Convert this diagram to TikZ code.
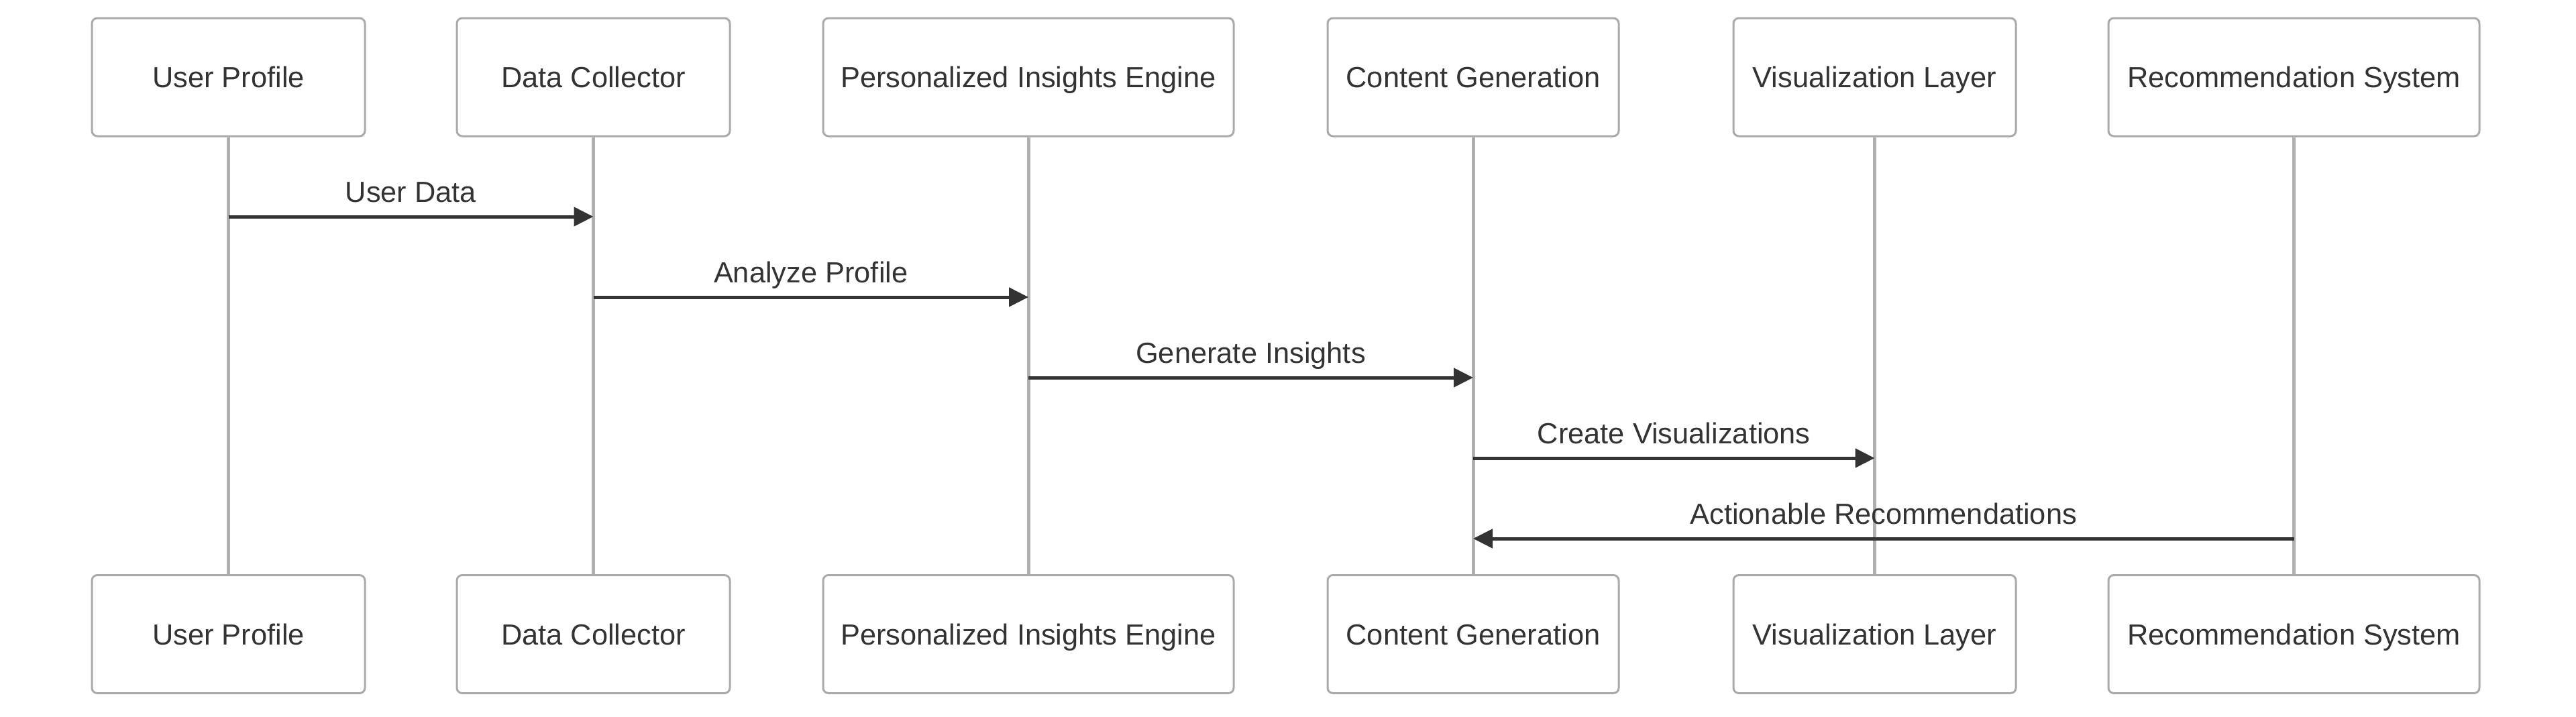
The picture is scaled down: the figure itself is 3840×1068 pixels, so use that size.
\documentclass[tikz,border=0pt]{standalone}
\usepackage{fontspec}
\setmainfont{Liberation Sans}
\usetikzlibrary{arrows.meta,calc}
\definecolor{txt}{HTML}{333333}
\definecolor{bord}{HTML}{AAAAAA}
\definecolor{lifec}{HTML}{B0B0B0}
\begin{document}
\begin{tikzpicture}[x=1pt,y=-1pt,
  actor/.style={draw=bord,fill=white,line width=3pt,rounded corners=8pt,minimum height=176pt,inner sep=0pt,text height=31pt,text depth=0pt,text=txt,font=\fontsize{43.4}{52}\selectfont},
  life/.style={draw=lifec,line width=5pt},
  msg/.style={draw=txt,line width=5pt,-{Triangle[length=29pt,width=28pt]}},
  msglabel/.style={anchor=base,inner sep=0pt,text=txt,font=\fontsize{43.4}{52}\selectfont}]
\useasboundingbox (0,0) rectangle (3840,1068);
% top actors
\node[actor,minimum width=407pt] (t1) at (340.5,115) {User Profile};
\node[actor,minimum width=407pt] (t2) at (884.5,115) {Data Collector};
\node[actor,minimum width=612pt] (t3) at (1533,115) {Personalized Insights Engine};
\node[actor,minimum width=434pt] (t4) at (2196,115) {Content Generation};
\node[actor,minimum width=421pt] (t5) at (2794.5,115) {Visualization Layer};
\node[actor,minimum width=553pt] (t6) at (3419.5,115) {Recommendation System};
% bottom actors
\node[actor,minimum width=407pt] (b1) at (340.5,945.5) {User Profile};
\node[actor,minimum width=407pt] (b2) at (884.5,945.5) {Data Collector};
\node[actor,minimum width=612pt] (b3) at (1533,945.5) {Personalized Insights Engine};
\node[actor,minimum width=434pt] (b4) at (2196,945.5) {Content Generation};
\node[actor,minimum width=421pt] (b5) at (2794.5,945.5) {Visualization Layer};
\node[actor,minimum width=553pt] (b6) at (3419.5,945.5) {Recommendation System};
% lifelines
\foreach \i in {1,...,6} {\draw[life] (t\i.south) -- (b\i.north);}
% messages
\draw[msg] (t1.south |- 0,323) -- (t2.south |- 0,323);
\node[msglabel] (l1) at ($(t1.south)!0.5!(t2.south) + (0,300-203)$) {User Data};
\draw[msg] (t2.south |- 0,443) -- (t3.south |- 0,443);
\node[msglabel] (l2) at ($(t2.south)!0.5!(t3.south) + (0,420-203)$) {Analyze Profile};
\draw[msg] (t3.south |- 0,563) -- (t4.south |- 0,563);
\node[msglabel] (l3) at ($(t3.south)!0.5!(t4.south) + (0,540-203)$) {Generate Insights};
\draw[msg] (t4.south |- 0,683) -- (t5.south |- 0,683);
\node[msglabel] (l4) at ($(t4.south)!0.5!(t5.south) + (0,660-203)$) {Create Visualizations};
\draw[msg] (t6.south |- 0,803) -- (t4.south |- 0,803);
\node[msglabel] (l5) at ($(t4.south)!0.5!(t6.south) + (0,780-203)$) {Actionable Recommendations};
\end{tikzpicture}
\end{document}
